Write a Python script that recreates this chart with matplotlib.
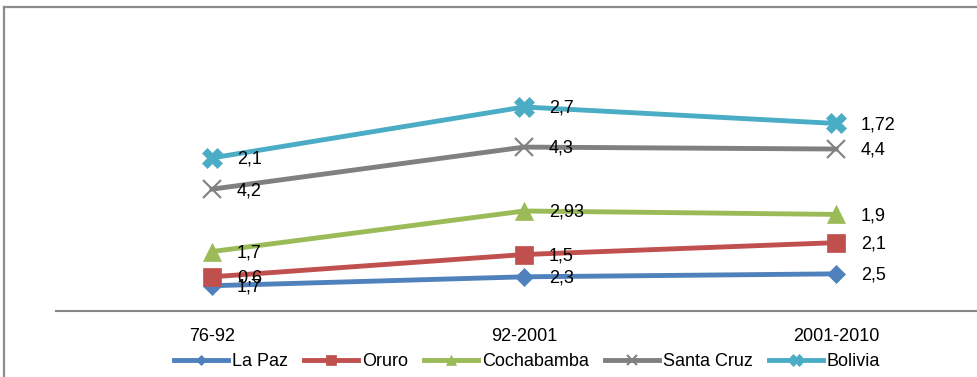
import matplotlib.pyplot as plt
import numpy as np
from matplotlib import font_manager
from matplotlib.lines import Line2D

names = [f.name for f in font_manager.fontManager.ttflist]
if 'Liberation Sans Narrow' in names:
    plt.rcParams['font.family'] = ['Liberation Sans Narrow', 'DejaVu Sans']
else:
    plt.rcParams['font.family'] = ['Liberation Sans', 'DejaVu Sans']

# data (stacked lines, labels show each series' own value)
periods = ['76-92', '92-2001', '2001-2010']
series = ['La Paz', 'Oruro', 'Cochabamba', 'Santa Cruz', 'Bolivia']
la_paz = [1.7, 2.3, 2.5]
oruro = [0.6, 1.5, 2.1]
cochabamba = [1.7, 2.93, 1.9]
santa_cruz = [4.2, 4.3, 4.4]
bolivia = [2.1, 2.7, 1.72]

values = np.array([la_paz, oruro, cochabamba, santa_cruz, bolivia])
stacked = np.cumsum(values, axis=0)

colors = ['#4F81BD', '#C0504D', '#9BBB59', '#808080', '#4BACC6']
markers = ['D', 's', '^', 'x', 'X']
msizes = [9, 13, 13, 13, 14]

W, H = 977, 377
fig = plt.figure(figsize=(W / 100, H / 100), dpi=100)
ax = fig.add_axes([56 / W, 66 / H, 936 / W, 311 / H])
ax.set_xlim(-0.5, 2.5)
ax.set_ylim(0, 311 / 14.86)

x = np.arange(len(periods))
handles = []
for i in range(len(series)):
    mew = 1.5 if markers[i] == 'x' else 0.5
    ln, = ax.plot(x, stacked[i], color=colors[i], lw=3.5, marker=markers[i],
                  markersize=msizes[i], markeredgewidth=mew,
                  markeredgecolor=colors[i], zorder=2 + i, clip_on=False)
    handles.append(ln)
    for j in range(len(periods)):
        lbl = ('%g' % values[i, j]).replace('.', ',')
        ax.annotate(lbl, (x[j], stacked[i, j]), xytext=(18, -1),
                    textcoords='offset points', ha='left', va='center',
                    fontsize=13, color='black', zorder=10)

for s in ['top', 'right', 'left']:
    ax.spines[s].set_visible(False)
ax.spines['bottom'].set_color('#868686')
ax.spines['bottom'].set_linewidth(1.5)
ax.set_yticks([])
ax.set_xticks(x)
ax.set_xticklabels(periods, fontsize=13)
ax.tick_params(axis='x', length=0, pad=12)

fig.legend(handles, series, loc='center', bbox_to_anchor=(527 / W, 15 / H),
           ncol=5, frameon=False, fontsize=13, handlelength=3.0,
           handletextpad=0.2, columnspacing=0.9, markerscale=0.6,
           borderaxespad=0, borderpad=0)

# outer chart border (top and left visible)
fig.add_artist(Line2D([4 / W, 1], [1 - 7 / H, 1 - 7 / H], color='#8c8c8c',
                      lw=1.6, transform=fig.transFigure))
fig.add_artist(Line2D([4 / W, 4 / W], [0, 1 - 7 / H], color='#8c8c8c',
                      lw=1.6, transform=fig.transFigure))

fig.savefig('out.png', dpi=100)
